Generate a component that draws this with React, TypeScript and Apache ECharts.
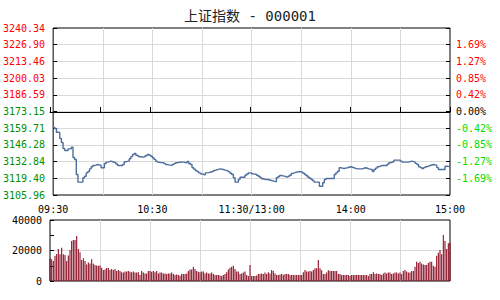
import React, { useEffect, useRef } from "react";
import * as echarts from "echarts";

const titleText = "上证指数 - 000001";

// x ticks every 30 minutes from 09:30 (index 0) to 15:00 (index 240)
const timeTickLabels = ["09:30", "", "10:30", "", "11:30/13:00", "", "14:00", "", "15:00"];

// price axis ticks (bottom to top)
const leftTickLabels = [
  "3105.96", "3119.40", "3132.84", "3146.28", "3159.71", "3173.15",
  "3186.59", "3200.03", "3213.46", "3226.90", "3240.34",
];
const rightTickLabels = [
  "", "-1.69%", "-1.27%", "-0.85%", "-0.42%", "0.00%",
  "0.42%", "0.85%", "1.27%", "1.69%", "",
];
const volumeTickLabels = ["0", "20000", "40000"];

// minute prices, 09:30..11:30 then 13:00..15:00 (241 points)
const prices = [
  3160.3, 3159.5, 3156.5, 3156.3, 3151.4, 3148.2, 3143.4, 3141.8, 3141.8, 3143.1,
  3143.1, 3144.4, 3136.1, 3134.5, 3122.5, 3116.3, 3116.3, 3116.3, 3119.8, 3121.1,
  3123.8, 3124.9, 3127.0, 3128.7, 3129.7, 3130.0, 3130.5, 3130.2, 3129.7, 3127.9,
  3127.9, 3131.3, 3132.4, 3132.8, 3133.2, 3132.7, 3132.3, 3131.9, 3130.9, 3129.7,
  3129.7, 3129.7, 3130.5, 3132.7, 3133.0, 3133.2, 3135.1, 3136.8, 3138.6, 3139.4,
  3138.0, 3137.3, 3136.7, 3136.5, 3136.4, 3137.0, 3137.7, 3138.6, 3137.9, 3137.2,
  3135.9, 3134.6, 3133.2, 3132.4, 3132.1, 3132.0, 3131.9, 3131.2, 3130.5, 3130.2,
  3130.0, 3129.9, 3130.5, 3131.2, 3131.9, 3132.2, 3132.3, 3132.4, 3132.4, 3132.0,
  3131.9, 3132.9, 3131.3, 3130.5, 3127.9, 3126.8, 3125.7, 3124.8, 3123.8, 3123.0,
  3122.5, 3122.2, 3123.8, 3124.0, 3124.3, 3124.7, 3125.1, 3125.7, 3126.2, 3126.6,
  3127.0, 3126.8, 3126.5, 3126.0, 3125.7, 3125.2, 3124.6, 3123.5, 3122.5, 3119.8,
  3116.3, 3116.3, 3118.4, 3120.3, 3120.3, 3120.3, 3121.9, 3122.8, 3123.8, 3123.8,
  3123.0, 3122.8, 3122.5, 3121.8, 3121.1, 3120.0, 3119.0, 3118.6, 3118.4, 3118.4,
  3118.0, 3117.6, 3117.3, 3116.9, 3116.6, 3119.8, 3120.8, 3121.7, 3121.4, 3121.1,
  3120.6, 3120.3, 3121.1, 3121.9, 3123.3, 3123.8, 3124.3, 3124.6, 3124.9, 3124.6,
  3124.3, 3123.5, 3122.5, 3121.4, 3120.3, 3119.4, 3118.4, 3117.3, 3116.3, 3116.3,
  3116.3, 3113.0, 3113.0, 3115.8, 3118.4, 3119.2, 3119.2, 3119.2, 3119.2, 3119.2,
  3122.5, 3123.8, 3125.1, 3127.9, 3127.6, 3127.3, 3127.6, 3127.9, 3128.3, 3128.7,
  3128.3, 3127.9, 3127.4, 3127.0, 3127.0, 3127.0, 3127.0, 3127.5, 3127.9, 3127.5,
  3127.0, 3126.7, 3126.5, 3124.9, 3126.5, 3127.6, 3128.7, 3129.2, 3129.7, 3129.7,
  3129.7, 3129.7, 3130.8, 3131.9, 3132.3, 3132.7, 3134.0, 3134.0, 3134.0, 3134.0,
  3133.2, 3132.4, 3132.4, 3132.4, 3132.4, 3132.8, 3133.2, 3132.8, 3132.4, 3131.4,
  3130.5, 3128.7, 3128.0, 3127.3, 3128.0, 3128.7, 3129.2, 3129.7, 3130.1, 3130.5,
  3130.2, 3129.9, 3128.0, 3126.5, 3126.5, 3126.5, 3126.5, 3129.1, 3129.0, 3128.7, 3128.7,
];

// minute volumes (241 bars)
const volumes = [
  15000, 14200, 13100, 16400, 17700, 21000, 17500, 21800, 17500, 17000,
  13100, 16700, 20300, 26200, 26900, 26900, 29500, 21000, 18800, 13800,
  14900, 13100, 10900, 12200, 11500, 14200, 11300, 10500, 10200, 10000,
  10200, 8700, 7200, 7500, 8500, 8500, 7200, 7900, 7200, 7900,
  6500, 7200, 6500, 5700, 5500, 6300, 6300, 6500, 6000, 5700,
  6300, 5500, 5500, 5700, 3900, 6500, 5500, 5000, 5000, 6500,
  6500, 6000, 6500, 5700, 6500, 5000, 5500, 5500, 5000, 5000,
  4600, 5000, 5000, 5500, 4600, 3900, 4200, 3900, 3500, 4600,
  4600, 4600, 5000, 6500, 7600, 7600, 9400, 7900, 6500, 6000,
  5700, 6300, 6300, 5000, 5500, 5000, 5000, 5500, 4600, 3900,
  3900, 3900, 3600, 3300, 3900, 4600, 5700, 7600, 8700, 9400,
  10000, 7900, 6300, 6300, 4600, 5000, 5500, 6300, 3900, 3300,
  10500, 3300, 3300, 3300, 3600, 4600, 4600, 5000, 4600, 5500,
  4600, 5700, 5000, 7200, 6500, 5000, 3900, 3900, 4200, 4600,
  3900, 4600, 4600, 4600, 3900, 3900, 3900, 3900, 3900, 3900,
  3900, 3900, 5700, 7200, 6300, 6300, 6500, 6300, 7200, 8300,
  8300, 13800, 8300, 7000, 4600, 4600, 5500, 7000, 6500, 6500,
  6500, 6500, 6500, 4600, 4600, 3900, 3900, 3900, 3900, 3900,
  3300, 3900, 3900, 3900, 3900, 3900, 3900, 3900, 3900, 3900,
  3900, 3300, 4600, 4600, 5700, 4600, 5000, 4600, 4600, 3900,
  5000, 5500, 5000, 5500, 5500, 4600, 5000, 5500, 5500, 5000,
  5500, 4600, 6500, 7200, 6300, 5500, 5500, 6500, 6500, 9400,
  12700, 11800, 12700, 11500, 10900, 10500, 10500, 11800, 12700, 12700,
  10000, 9400, 16600, 18600, 20300, 17500, 30200, 26200, 21000, 24700, 25100,
];

const MONO = "'DejaVu Sans Mono', monospace";

export default function App() {
  const ref = useRef<HTMLDivElement>(null);

  useEffect(() => {
    if (!ref.current) return;
    const chart = echarts.init(ref.current, undefined, { renderer: "svg" });

    const priceMin = parseFloat(leftTickLabels[0]);
    const priceMax = parseFloat(leftTickLabels[leftTickLabels.length - 1]);
    const priceStep = (priceMax - priceMin) / (leftTickLabels.length - 1);
    const zeroIdx = rightTickLabels.indexOf("0.00%");
    const pIdx = (v: any) => Math.round((parseFloat(v) - priceMin) / priceStep);
    const xMax = (timeTickLabels.length - 1) * 30;
    const volMax = parseFloat(volumeTickLabels[volumeTickLabels.length - 1]);
    const volStep = volMax / (volumeTickLabels.length - 1);

    const gridLine = { show: true, showMinLine: false, showMaxLine: false, lineStyle: { color: "#d9d9d9", width: 1 } };

    chart.setOption({
      animation: false,
      backgroundColor: "#ffffff",
      title: {
        text: titleText,
        left: "center",
        top: 4,
        textStyle: {
          fontSize: 14, fontWeight: "normal", color: "#222",
          fontFamily: "'DejaVu Sans Mono', 'Noto Sans CJK SC', monospace",
        },
      },
      grid: [
        { left: 50, top: 28, width: 400, height: 167, show: true, borderColor: "#000", borderWidth: 1 },
        { left: 50, top: 220, width: 400, height: 61, show: true, borderColor: "#000", borderWidth: 1 },
        { left: 50, top: 28, width: 400, height: 84, show: false },
      ],
      xAxis: [
        {
          gridIndex: 0, type: "value", min: 0, max: xMax, interval: 30,
          axisLine: { show: false }, axisTick: { show: false },
          axisLabel: {
            margin: 9, fontSize: 10, fontFamily: MONO, color: "#000",
            showMinLabel: true, showMaxLabel: true,
            formatter: (v: number) => timeTickLabels[Math.round(v / 30)] ?? "",
          },
          splitLine: gridLine,
        },
        {
          gridIndex: 1, type: "value", min: 0, max: xMax, interval: 30,
          axisLine: { show: false }, axisTick: { show: false }, axisLabel: { show: false },
          splitLine: gridLine,
        },
        {
          gridIndex: 2, type: "value", min: 0, max: xMax, interval: 30, z: 5,
          axisLine: { show: true, lineStyle: { color: "#000", width: 1 } },
          axisTick: { show: true, inside: true, length: 5, lineStyle: { color: "#000" } },
          axisLabel: { show: false }, splitLine: { show: false },
        },
      ],
      yAxis: [
        {
          gridIndex: 0, type: "value", position: "left", min: priceMin, max: priceMax, interval: priceStep,
          axisLine: { show: false },
          axisTick: { show: true, inside: true, length: 4, lineStyle: { color: "#000" } },
          axisLabel: {
            margin: 8, fontSize: 10, fontFamily: MONO,
            showMinLabel: true, showMaxLabel: true,
            formatter: (v: number) => leftTickLabels[pIdx(v)] ?? "",
            color: (v: any) => (pIdx(v) > zeroIdx ? "#ff0000" : "#009000"),
          },
          splitLine: gridLine,
        },
        {
          gridIndex: 0, type: "value", position: "right", min: priceMin, max: priceMax, interval: priceStep,
          axisLine: { show: false },
          axisTick: { show: true, inside: true, length: 4, lineStyle: { color: "#000" } },
          axisLabel: {
            margin: 6, fontSize: 10, fontFamily: MONO,
            formatter: (v: number) => rightTickLabels[pIdx(v)] ?? "",
            color: (v: any) => {
              const i = pIdx(v);
              return i > zeroIdx ? "#ff0000" : i === zeroIdx ? "#000000" : "#00dd00";
            },
          },
          splitLine: { show: false },
        },
        {
          gridIndex: 1, type: "value", position: "left", min: 0, max: volMax, interval: volStep,
          axisLine: { show: false },
          axisTick: { show: true, inside: true, length: 4, lineStyle: { color: "#000" } },
          minorTick: { show: true, splitNumber: 2, length: 4, lineStyle: { color: "#000" } },
          axisLabel: {
            margin: 8, fontSize: 10, fontFamily: MONO, color: "#000",
            showMinLabel: true, showMaxLabel: true,
            formatter: (v: number) => volumeTickLabels[Math.round(v / volStep)] ?? "",
          },
          splitLine: gridLine,
        },
        { gridIndex: 2, type: "value", show: false, min: 0, max: 1 },
      ],
      series: [
        {
          type: "line",
          xAxisIndex: 0,
          yAxisIndex: 0,
          data: prices.map((p, i) => [i, p]),
          step: "end",
          showSymbol: false,
          symbol: "none",
          lineStyle: { color: "#4f6f9c", width: 1.4 },
          z: 3,
        },
        {
          type: "bar",
          xAxisIndex: 1,
          yAxisIndex: 2,
          data: volumes.map((v, i) => [i, v]),
          barWidth: 1.1,
          itemStyle: { color: "#8a1025" },
          clip: true,
        },
      ],
    });

    return () => chart.dispose();
  }, []);

  return (
    <div
      ref={ref}
      style={{ position: "absolute", left: 0, top: 0, width: 500, height: 300, background: "#fff" }}
    />
  );
}
